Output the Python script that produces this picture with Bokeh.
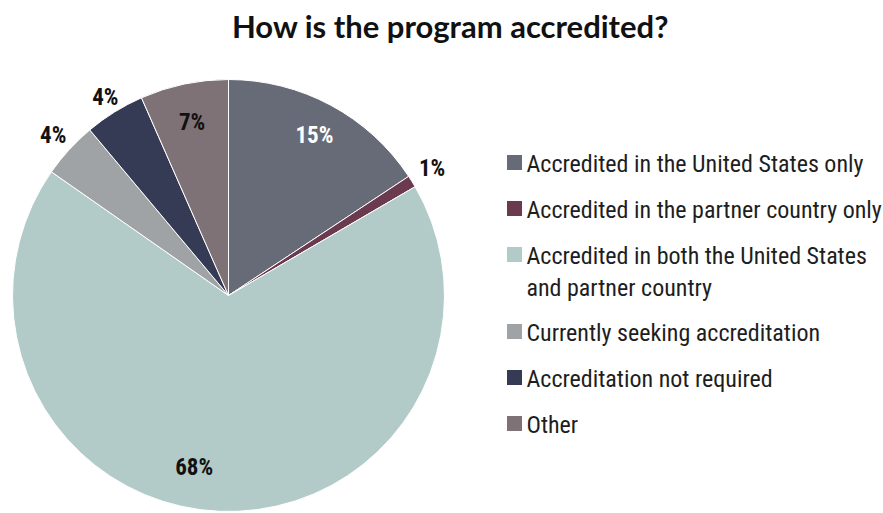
import math
from bokeh.plotting import figure
from bokeh.models import Range1d, ColumnDataSource
from bokeh.core.properties import value
from bokeh.embed import file_html
from bokeh.resources import INLINE

title = "How is the program accredited?"
categories = [
    "Accredited in the United States only",
    "Accredited in the partner country only",
    "Accredited in both the United States\nand partner country",
    "Currently seeking accreditation",
    "Accreditation not required",
    "Other",
]
values = [15.7, 0.9, 68.1, 4.2, 4.5, 6.6]
labels = ["15%", "1%", "68%", "4%", "4%", "7%"]
colors = ["#676b77", "#6b3a4e", "#b3cbc8", "#9fa3a6", "#363b55", "#7e7276"]
label_colors = ["white", "#111111", "#111111", "#111111", "#111111", "#111111"]
label_r = [0.84, 1.11, 0.81, 1.10, 1.08, 0.82]
label_dtheta = [0, 0, 9, 0, 0, 0]  # degrees, clockwise shift of label

FONT = "'Roboto Condensed', 'DejaVu Sans Condensed', 'Liberation Sans Narrow', sans-serif"

W, H = 883, 513
p = figure(width=W, height=H, output_backend="svg", toolbar_location=None,
           x_range=Range1d(0, W), y_range=Range1d(-H, 0),
           min_border=0, outline_line_color=None)
p.axis.visible = False
p.grid.visible = False
p.background_fill_color = "white"
p.border_fill_color = "white"

cx, cy, R = 228, -295, 216
total = sum(values)
starts, ends, lx, ly = [], [], [], []
cum = 0.0
for i, v in enumerate(values):
    f0 = cum / total
    cum += v
    f1 = cum / total
    starts.append(math.pi / 2 - 2 * math.pi * f1)
    ends.append(math.pi / 2 - 2 * math.pi * f0)
    mid = (f0 + f1) / 2 * 360 + label_dtheta[i]
    a = math.radians(mid)
    lx.append(cx + label_r[i] * R * math.sin(a))
    ly.append(cy + label_r[i] * R * math.cos(a))

src = ColumnDataSource(dict(start=starts, end=ends, color=colors))
p.wedge(x=cx, y=cy, radius=R, start_angle="start", end_angle="end",
        fill_color="color", line_color="white", line_width=1, source=src)

p.text(x=lx, y=ly, text=labels, text_color=label_colors,
       text_font=value(FONT), text_font_style="bold",
       text_font_size="23px", text_align="center", text_baseline="middle")

# title
p.text(x=[450], y=[-25], text=[title], text_font=value("Lato"),
       text_font_style="bold", text_font_size="31px", text_color="#111111",
       text_align="center", text_baseline="middle")

# legend
sq_x, tx = 514, 526
y0, step, extra = -163, 46, 31
ys = []
off = 0
for i, c in enumerate(categories):
    ys.append(y0 - i * step - off)
    off += extra * c.count("\n")
p.scatter(x=[sq_x] * len(ys), y=[y + 1 for y in ys], marker="square", size=15,
          fill_color=colors, line_color=None)
p.text(x=[tx] * len(ys), y=[y + 14 for y in ys], text=categories,
       text_font=value(FONT), text_font_size="24px",
       text_color="#1e1e1e", text_align="left", text_baseline="top",
       text_line_height=1.15)

open("out.html", "w").write(file_html(p, INLINE))
